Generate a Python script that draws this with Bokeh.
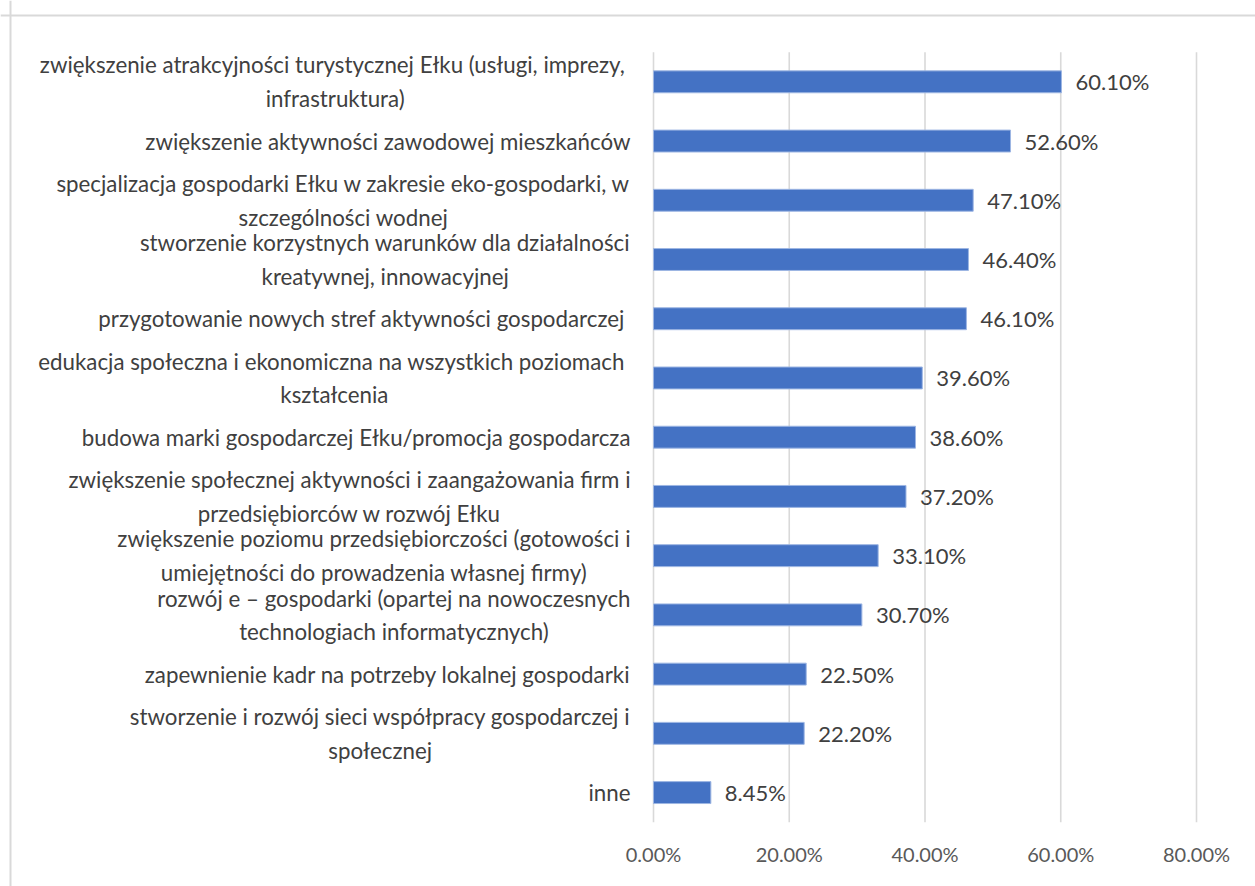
from bokeh.plotting import figure
from bokeh.models import Range1d, ColumnDataSource, Span
from bokeh.core.properties import value
from bokeh.embed import file_html
from bokeh.resources import INLINE

categories = [
    "zwiększenie atrakcyjności turystycznej  Ełku (usługi, imprezy,\ninfrastruktura)",
    "zwiększenie aktywności zawodowej mieszkańców",
    "specjalizacja gospodarki Ełku w zakresie eko-gospodarki, w\nszczególności wodnej",
    "stworzenie korzystnych warunków dla działalności\nkreatywnej, innowacyjnej",
    "przygotowanie nowych stref aktywności  gospodarczej",
    "edukacja społeczna i ekonomiczna  na wszystkich poziomach\nkształcenia",
    "budowa marki gospodarczej Ełku/promocja gospodarcza",
    "zwiększenie społecznej aktywności i zaangażowania firm i\nprzedsiębiorców w rozwój Ełku",
    "zwiększenie poziomu przedsiębiorczości (gotowości i\numiejętności do prowadzenia własnej firmy)",
    "rozwój e – gospodarki (opartej na nowoczesnych\ntechnologiach informatycznych)",
    "zapewnienie kadr na potrzeby lokalnej gospodarki",
    "stworzenie i rozwój sieci współpracy gospodarczej i\nspołecznej",
    "inne",
]
values = [60.10, 52.60, 47.10, 46.40, 46.10, 39.60, 38.60, 37.20, 33.10, 30.70, 22.50, 22.20, 8.45]
value_labels = ["60.10%", "52.60%", "47.10%", "46.40%", "46.10%", "39.60%", "38.60%",
                "37.20%", "33.10%", "30.70%", "22.50%", "22.20%", "8.45%"]
tick_values = [0, 20, 40, 60, 80]
tick_labels = ["0.00%", "20.00%", "40.00%", "60.00%", "80.00%"]

FONT = "Lato"
n = len(categories)
pos = [i + 0.5 for i in range(n)]

W, H = 1255, 886
px_per_pct = 6.7875
x0_px = 653.0          # position of 0% inside figure
unit_px = 59.23        # height of one category
top_px = 51.7          # top of plot area inside figure

x_start = -x0_px / px_per_pct
x_end = (W - x0_px) / px_per_pct
y_top = -top_px / unit_px
y_bottom = (H - top_px) / unit_px

p = figure(width=W, height=H, output_backend="svg", toolbar_location=None,
           x_range=Range1d(x_start, x_end), y_range=Range1d(y_bottom, y_top),
           min_border=0, min_border_left=0, min_border_right=0,
           min_border_top=0, min_border_bottom=0)
p.xaxis.visible = False
p.yaxis.visible = False
p.xgrid.visible = False
p.ygrid.visible = False
p.outline_line_color = None
p.background_fill_color = "white"
p.border_fill_color = "white"

# chart border (left and top edges)
p.add_layout(Span(location=x_start + 10.0 / px_per_pct, dimension="height",
                  line_color="#d9d9d9", line_width=2))
p.add_layout(Span(location=y_top + 15.0 / unit_px, dimension="width",
                  line_color="#d9d9d9", line_width=2))

# gridlines
p.segment(x0=tick_values, x1=tick_values, y0=[0] * len(tick_values), y1=[n] * len(tick_values),
          line_color="#d9d9d9", line_width=1.6)

src = ColumnDataSource(dict(y=pos, v=values, cat=categories, lab=value_labels))
p.hbar(y="y", right="v", left=0, height=0.37, source=src,
       fill_color="#4472c4", line_color="#9db6e3", line_width=1)

# value labels
p.text(x="v", y="y", text="lab", source=src, x_offset=14,
       text_align="left", text_baseline="middle",
       text_font=value(FONT), text_font_size="22px", text_color="#404040")

# category labels
p.text(x=value(-23.0 / px_per_pct), y="y", text="cat", source=src,
       anchor="center_right", text_align="center", text_baseline="middle",
       text_line_height=1.25,
       text_font=value(FONT), text_font_size="22.3px", text_color="#404040")

# x tick labels
p.text(x=tick_values, y=[n] * len(tick_values), text=tick_labels, y_offset=32,
       text_align="center", text_baseline="middle",
       text_font=value(FONT), text_font_size="20px", text_color="#595959")

open("out.html", "w").write(file_html(p, INLINE))
